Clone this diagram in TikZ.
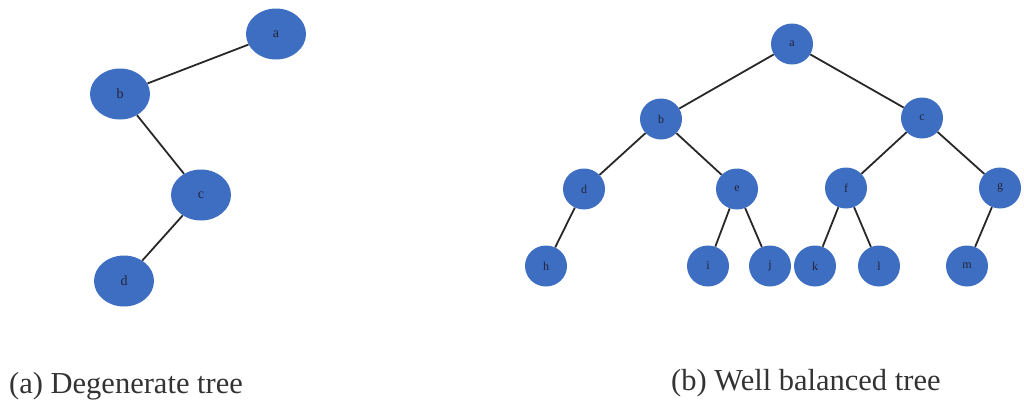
\documentclass[tikz,border=0pt]{standalone}
\usepackage{fontspec}
\setmainfont{Liberation Serif}
\usetikzlibrary{shapes.geometric}
\definecolor{nodeblue}{RGB}{62,110,194}
\definecolor{labelink}{RGB}{35,35,55}
\definecolor{edgeink}{RGB}{40,40,40}
\tikzset{
  bignode/.style={ellipse, fill=nodeblue, minimum width=60pt, minimum height=51pt, inner sep=0pt, text=labelink, font=\fontsize{14}{14}\selectfont},
  smallnode/.style={ellipse, fill=nodeblue, minimum width=42pt, minimum height=41pt, inner sep=0pt, text=labelink, font=\fontsize{12}{12}\selectfont},
  edge/.style={draw=edgeink, line width=1.8pt},
  caption/.style={anchor=base west, inner sep=0pt, text=black!80, font=\fontsize{30.5}{32}\selectfont}
}
\begin{document}
\begin{tikzpicture}[x=1pt,y=-1pt]
\useasboundingbox (0,0) rectangle (1024,402);
% degenerate tree
\node[bignode] (la) at (276,34) {a};
\node[bignode] (lb) at (120,94) {b};
\node[bignode] (lc) at (201,195) {c};
\node[bignode] (ld) at (124,281) {d};
\draw[edge] (la) -- (lb);
\draw[edge] (lb) -- (lc);
\draw[edge] (lc) -- (ld);
% balanced tree
\node[smallnode] (ra) at (792,44) {a};
\node[smallnode] (rb) at (661,119) {b};
\node[smallnode] (rc) at (922,118) {c};
\node[smallnode] (rd) at (584,189) {d};
\node[smallnode] (re) at (737,189) {e};
\node[smallnode] (rf) at (846,188) {f};
\node[smallnode] (rg) at (1000,188) {g};
\node[smallnode] (rh) at (546,266) {h};
\node[smallnode] (ri) at (708,266) {i};
\node[smallnode] (rj) at (770,266) {j};
\node[smallnode] (rk) at (815,266) {k};
\node[smallnode] (rl) at (879,266) {l};
\node[smallnode] (rm) at (967,266) {m};
\draw[edge] (ra) -- (rb);
\draw[edge] (ra) -- (rc);
\draw[edge] (rb) -- (rd);
\draw[edge] (rb) -- (re);
\draw[edge] (rc) -- (rf);
\draw[edge] (rc) -- (rg);
\draw[edge] (rd) -- (rh);
\draw[edge] (re) -- (ri);
\draw[edge] (re) -- (rj);
\draw[edge] (rf) -- (rk);
\draw[edge] (rf) -- (rl);
\draw[edge] (rg) -- (rm);
% captions
\node[caption] (capa) at (9,393) {(a) Degenerate tree};
\node[caption] (capb) at (671,390) {(b) Well balanced tree};
\end{tikzpicture}
\end{document}
